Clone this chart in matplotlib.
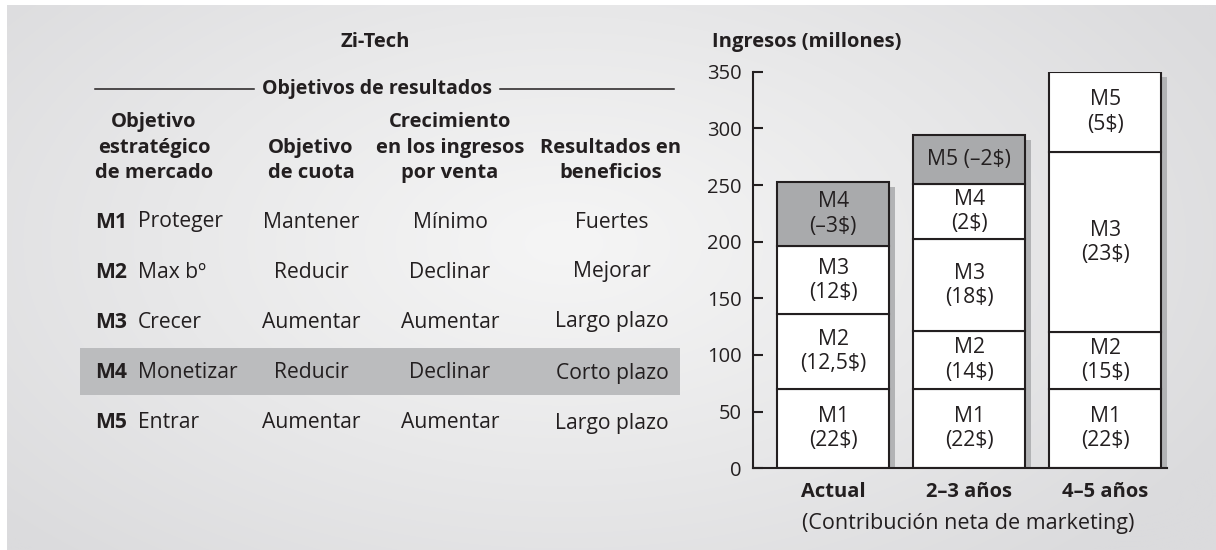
import matplotlib
matplotlib.use("Agg")
import matplotlib.pyplot as plt
from matplotlib.patches import Rectangle
import numpy as np

plt.rcParams['font.family'] = ['Open Sans', 'Noto Sans', 'DejaVu Sans']

W, H = 1216, 550
INK = '#231f20'

# ---- table data ----
row_codes = ["M1", "M2", "M3", "M4", "M5"]
strategy = ["Proteger", "Max bº", "Crecer", "Monetizar", "Entrar"]
share_goal = ["Mantener", "Reducir", "Aumentar", "Reducir", "Aumentar"]
revenue_growth = ["Mínimo", "Declinar", "Aumentar", "Declinar", "Aumentar"]
profit_result = ["Fuertes", "Mejorar", "Largo plazo", "Corto plazo", "Largo plazo"]
highlight_row = 3

# ---- stacked revenue data (millions) ----
periods = ["Actual", "2–3 años", "4–5 años"]
segments = ["M1", "M2", "M3", "M4", "M5"]
revenue = {
    "M1": [70, 70, 70],
    "M2": [66, 51, 50],
    "M3": [60, 81, 159],
    "M4": [57, 49, 0],
    "M5": [0, 43, 71],
}
contribution = {
    "M1": [22, 22, 22],
    "M2": [12.5, 14, 15],
    "M3": [12, 18, 23],
    "M4": [-3, 2, None],
    "M5": [None, -2, 5],
}


def money(v):
    s = f"{abs(v):g}".replace(".", ",")
    return ("–" if v < 0 else "") + s + "$"


fig = plt.figure(figsize=(W / 100, H / 100), dpi=100, facecolor='white')

# full-figure overlay in pixel coordinates
bg = fig.add_axes([0, 0, 1, 1])
bg.set_xlim(0, W)
bg.set_ylim(H, 0)
bg.axis('off')

yy, xx = np.mgrid[0:H, 0:W]
d = np.sqrt(((xx - 560) / 760.0) ** 2 + ((yy - 240) / 430.0) ** 2)
t = np.clip(d, 0, 1) ** 1.1
center = np.array([245, 245, 245]) / 255.0
edge = np.array([219, 219, 221]) / 255.0
img = center[None, None, :] * (1 - t[..., None]) + edge[None, None, :] * t[..., None]
bg.imshow(img, extent=(7, W, H, 5), aspect='auto', zorder=0)

FS = 15.2
BFS = 14.5
# titles
bg.text(375, 42, "Zi-Tech", ha='center', va='center', fontsize=BFS, fontweight='bold', color=INK)
bg.text(377, 89, "Objetivos de resultados", ha='center', va='center', fontsize=14,
        fontweight='bold', color=INK)
bg.plot([95, 254], [89, 89], color=INK, lw=1.1)
bg.plot([500, 674], [89, 89], color=INK, lw=1.1)

# column headers
headers = [
    (154, ["Objetivo", "estratégico", "de mercado"]),
    (311, ["Objetivo", "de cuota"]),
    (450, ["Crecimiento", "en los ingresos", "por venta"]),
    (611, ["Resultados en", "beneficios"]),
]
line_y = [122, 148, 173]
for cx, lines in headers:
    for ly, txt in zip(line_y[3 - len(lines):], lines):
        bg.text(cx, ly, txt, ha='center', va='center', fontsize=BFS, fontweight='bold', color=INK)

# table rows
row_y = [222, 272, 322, 373, 423]
bg.add_patch(Rectangle((80, 348), 600, 47, facecolor='#bbbcbe', edgecolor='none', zorder=1))
for i, y in enumerate(row_y):
    bg.text(95, y, row_codes[i], ha='left', va='center', fontsize=FS, fontweight='bold', color=INK, zorder=2)
    bg.text(138, y, strategy[i], ha='left', va='center', fontsize=FS, color=INK, zorder=2)
    bg.text(311, y, share_goal[i], ha='center', va='center', fontsize=FS, color=INK, zorder=2)
    bg.text(450, y, revenue_growth[i], ha='center', va='center', fontsize=FS, color=INK, zorder=2)
    bg.text(612, y, profit_result[i], ha='center', va='center', fontsize=FS, color=INK, zorder=2)

# ---- stacked bar chart ----
ax_l, ax_r, ax_b, ax_t = 752.7, 1167, 468.3, 71.7
ax = fig.add_axes([ax_l / W, (H - ax_b) / H, (ax_r - ax_l) / W, (ax_b - ax_t) / H])
ax.set_facecolor('none')
ax.set_xlim(-0.592, 2.455)
ax.set_ylim(0, 350)

x = np.arange(len(periods))
bw = 0.82
totals = np.sum([revenue[s] for s in segments], axis=0)
ax.bar(x + 0.044, totals - 4.4, width=bw, color='#b2b3b5', edgecolor='none', zorder=1)

bottom = np.zeros(len(periods))
for s in segments:
    vals = np.array(revenue[s], dtype=float)
    for i in range(len(periods)):
        v = vals[i]
        if v <= 0:
            continue
        c = contribution[s][i]
        face = '#a9aaac' if c < 0 else 'white'
        ax.bar(x[i], v, bottom=bottom[i], width=bw, color=face, edgecolor=INK, lw=1.5, zorder=2)
        sep = " " if v < 45 else "\n"
        ax.text(x[i], bottom[i] + v / 2, f"{s}{sep}({money(c)})", ha='center', va='center',
                fontsize=15.2, color=INK, linespacing=1.2, zorder=3)
    bottom += vals

for sp in ['top', 'right']:
    ax.spines[sp].set_visible(False)
for sp in ['left', 'bottom']:
    ax.spines[sp].set_linewidth(1.5)
    ax.spines[sp].set_color(INK)
ax.set_yticks(range(0, 351, 50))
ax.tick_params(axis='y', direction='in', length=7.5, width=1.5, color=INK, pad=8,
               labelsize=14.5, labelcolor=INK)
ax.set_xticks(x)
ax.set_xticklabels(periods, fontweight='bold')
ax.tick_params(axis='x', length=0, pad=10, labelsize=BFS, labelcolor=INK)

bg.text(712, 42, "Ingresos (millones)", ha='left', va='center', fontsize=BFS, fontweight='bold', color=INK)
bg.text(968, 523, "(Contribución neta de marketing)", ha='center', va='center', fontsize=15.5, color=INK)

fig.savefig('out.png', dpi=100)
